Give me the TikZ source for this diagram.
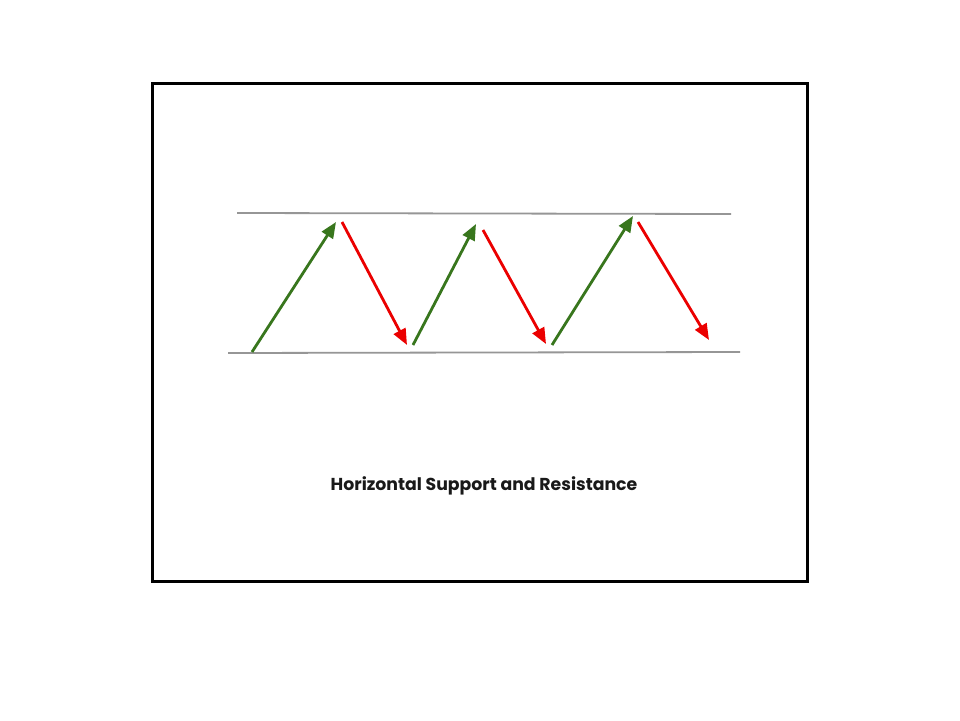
\documentclass[tikz,border=0pt]{standalone}
\usepackage{fontspec}
\setmainfont{Poppins}
\usetikzlibrary{arrows.meta}
\definecolor{upgreen}{RGB}{56,118,29}
\definecolor{downred}{RGB}{235,0,0}
\definecolor{levelgray}{RGB}{150,150,150}
\tikzset{
  frame/.style={draw=black,line width=3pt},
  level/.style={draw=levelgray,line width=1.8pt},
  up/.style={draw=upgreen,line width=2.8pt,-{Triangle[length=16pt,width=13pt]}},
  down/.style={draw=downred,line width=2.8pt,-{Triangle[length=16pt,width=13pt]}},
  caption/.style={font=\fontsize{17.3pt}{19pt}\selectfont\bfseries,text=black!90}
}
\begin{document}
\begin{tikzpicture}[x=1pt,y=-1pt]
\useasboundingbox (0,0) rectangle (960,720);
\fill[white] (0,0) rectangle (960,720);
\draw[frame] (152,83) rectangle (807,581);
\coordinate (t1) at (237,213);
\coordinate (t2) at (731,214);
\coordinate (b1) at (228,353);
\coordinate (b2) at (740,352);
\draw[level] (t1) -- (t2);
\draw[level] (b1) -- (b2);
\coordinate (g1s) at (252,352);
\coordinate (g1e) at (336,222);
\coordinate (r1s) at (342,222);
\coordinate (r1e) at (407,345);
\coordinate (g2s) at (413,345);
\coordinate (g2e) at (476,224);
\coordinate (r2s) at (483,230);
\coordinate (r2e) at (546,344);
\coordinate (g3s) at (552,345);
\coordinate (g3e) at (633,216);
\coordinate (r3s) at (638,222);
\coordinate (r3e) at (709,340);
\draw[up] (g1s) -- (g1e);
\draw[down] (r1s) -- (r1e);
\draw[up] (g2s) -- (g2e);
\draw[down] (r2s) -- (r2e);
\draw[up] (g3s) -- (g3e);
\draw[down] (r3s) -- (r3e);
\node[caption] (cap) at (484,486) {Horizontal Support and Resistance};
\end{tikzpicture}
\end{document}
